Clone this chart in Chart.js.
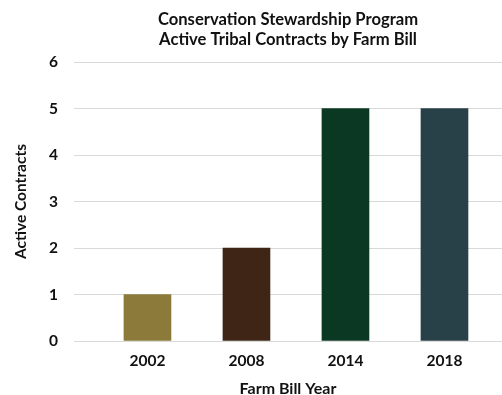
<!DOCTYPE html>
<html lang="en">
<head>
    <meta charset="UTF-8">
    <title>Conservation Stewardship Program</title>
    <script src="https://cdn.jsdelivr.net/npm/chart.js"></script>
    <style>
        * { margin: 0; padding: 0; box-sizing: border-box; }
        body { background: #ffffff; width: 502px; height: 395px; overflow: hidden; }
        #wrap { width: 502px; height: 395px; }
    </style>
</head>
<body>
    <div id="wrap"><canvas id="cspChart"></canvas></div>
    <script>
        const years = ['2002', '2008', '2014', '2018'];
        const contracts = [1, 2, 5, 5];
        const barColors = ['#8b7a3a', '#3e2516', '#0a3822', '#284149'];
        const yTicks = [0, 1, 2, 3, 4, 5, 6];
        const titleLines = ['Conservation Stewardship Program', 'Active Tribal Contracts by Farm Bill'];

        const font = 'Lato, "Liberation Sans", sans-serif';

        // title centred over the plot area, like the original
        const plotTitle = {
            id: 'plotTitle',
            afterDraw(chart) {
                const { ctx, chartArea } = chart;
                const cx = (chartArea.left + chartArea.right) / 2;
                ctx.save();
                ctx.fillStyle = '#111111';
                ctx.font = 'bold 16.6px ' + font;
                ctx.textAlign = 'center';
                ctx.textBaseline = 'middle';
                titleLines.forEach((t, i) => ctx.fillText(t, cx, 20 + i * 19.5));
                ctx.restore();
            }
        };

        new Chart(document.getElementById('cspChart'), {
            type: 'bar',
            data: {
                datasets: [{
                    data: years.map((y, i) => ({ x: i, y: contracts[i] })),
                    backgroundColor: barColors,
                    barThickness: 47
                }]
            },
            options: {
                responsive: true,
                maintainAspectRatio: false,
                animation: false,
                layout: { padding: { top: 62, right: 0, left: 12, bottom: 0 } },
                plugins: {
                    legend: { display: false },
                    tooltip: { enabled: false },
                    title: { display: false }
                },
                scales: {
                    x: {
                        type: 'linear',
                        offset: false,
                        min: -0.742,
                        max: 3.581,
                        grid: { display: false, offset: false },
                        border: { display: false },
                        afterBuildTicks: s => { s.ticks = years.map((y, i) => ({ value: i })); },
                        ticks: {
                            color: '#111111',
                            font: { family: font, size: 15.5, weight: 'bold' },
                            padding: 3,
                            maxRotation: 0,
                            callback: v => years[v]
                        },
                        title: {
                            display: true,
                            text: 'Farm Bill Year',
                            color: '#111111',
                            font: { family: font, size: 16, weight: 'bold' },
                            padding: { top: 10, bottom: -3 }
                        },
                        afterFit: s => { s.height = 54; }
                    },
                    y: {
                        min: 0,
                        max: 6,
                        afterBuildTicks: s => { s.ticks = yTicks.map(v => ({ value: v })); },
                        grid: { color: '#d9d9d9', lineWidth: 1, drawTicks: false },
                        border: { display: false },
                        ticks: {
                            color: '#111111',
                            font: { family: font, size: 15.5, weight: 'bold' },
                            padding: 16
                        },
                        title: {
                            display: true,
                            text: 'Active Contracts',
                            color: '#111111',
                            font: { family: font, size: 15.5, weight: 'bold' },
                            padding: { top: 0, bottom: 4 }
                        },
                        afterFit: s => { s.width = 62; }
                    }
                }
            },
            plugins: [plotTitle]
        });
    </script>
</body>
</html>
